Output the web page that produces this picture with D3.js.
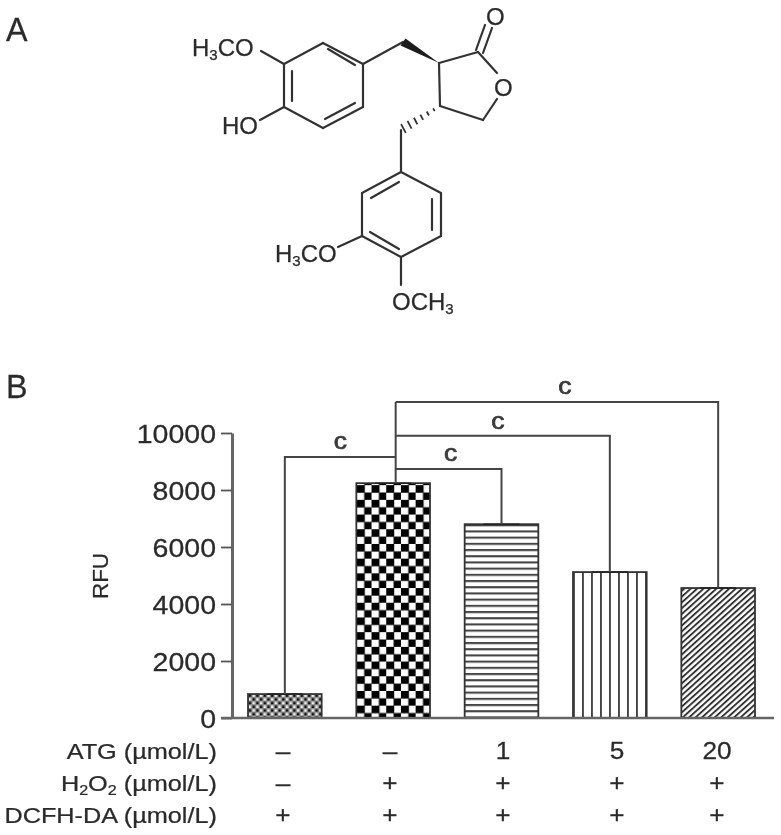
<!DOCTYPE html>
<html>
<head>
<meta charset="utf-8">
<script src="https://cdn.jsdelivr.net/npm/d3@7"></script>
<style>
html, body { margin: 0; padding: 0; background: #fff; }
svg { display: block; }
text { font-family: "Liberation Sans", Arial, sans-serif; fill: #2b2b2b; stroke: #2b2b2b; stroke-width: 0.25px; }
</style>
</head>
<body>
<div id="chart"></div>
<script>
// panel B data
var categories = ["control", "h2o2", "atg1", "atg5", "atg20"];
var rfuValues = [840, 8240, 6800, 5120, 4560];
var patternIds = ["fine", "check", "horiz", "vert", "diag"];
var yTicks = [0, 2000, 4000, 6000, 8000, 10000];

var rowNames = ["ATG", "H2O2", "DCFH-DA"];
var rowAtg = ["–", "–", "1", "5", "20"];
var rowH2o2 = ["–", "+", "+", "+", "+"];
var rowDcfh = ["+", "+", "+", "+", "+"];

// significance brackets, level in RFU units
var bracketFrom = ["control", "atg1", "atg5", "atg20"];
var bracketLevel = [9160, 8740, 9900, 11090];
var bracketLabel = ["c", "c", "c", "c"];

// panel A structure
var atoms = {
    a1: [323, 43], a2: [363, 64], a3: [363, 107], a4: [323, 128], a5: [284, 107], a6: [284, 64],
    ome1: [261, 51], oh: [260, 120], ch2a: [403, 42],
    c3: [439, 63], c2: [478, 52], o1: [497, 73], o1b: [497, 99], c5: [483, 120], c4: [440, 106],
    ch2b: [401, 130],
    b1: [401, 172], b2: [441, 193], b3: [441, 236], b4: [401, 257], b5: [362, 236], b6: [362, 193],
    ome2: [338, 247], ome3: [401, 285]
};
var singleBonds = [
    ["a1", "a2"], ["a2", "a3"], ["a3", "a4"], ["a4", "a5"], ["a5", "a6"], ["a6", "a1"],
    ["a6", "ome1"], ["a5", "oh"], ["a2", "ch2a"],
    ["c3", "c2"], ["c3", "c4"], ["c2", "o1"], ["o1b", "c5"], ["c5", "c4"],
    ["ch2b", "b1"],
    ["b1", "b2"], ["b2", "b3"], ["b3", "b4"], ["b4", "b5"], ["b5", "b6"], ["b6", "b1"],
    ["b5", "ome2"], ["b4", "ome3"]
];
var innerBonds = [
    [[328, 49], [355, 65]], [[325, 119], [355, 103]], [[292, 71], [292, 101]],
    [[371, 198], [399, 182]], [[432, 199], [432, 230]], [[370, 232], [399, 249]],
    [[476, 50], [485, 25]], [[483, 53], [492, 28]]
];

var width = 781, height = 835;

var svg = d3.select("#chart").append("svg")
    .attr("width", width)
    .attr("height", height);

var defs = svg.append("defs");
defs.append("filter").attr("id", "soft")
    .attr("filterUnits", "userSpaceOnUse")
    .attr("x", 0).attr("y", 0).attr("width", width).attr("height", height)
    .append("feGaussianBlur").attr("stdDeviation", 0.6);

var root = svg.append("g").attr("filter", "url(#soft)");
root.append("rect").attr("width", width).attr("height", height).attr("fill", "#fff");

var x = d3.scaleBand().domain(categories).range([248, 755]).paddingInner(0.32).paddingOuter(0);
var y = d3.scaleLinear().domain([0, 10000]).range([718, 433]);
var center = function(c) { return x(c) + x.bandwidth() / 2; };

function make_pattern(id, w, h, tx, ty) {
    return defs.append("pattern").attr("id", id)
        .attr("patternUnits", "userSpaceOnUse")
        .attr("width", w).attr("height", h)
        .attr("patternTransform", "translate(" + tx + "," + ty + ")");
}

var top0 = y(rfuValues[0]), top1 = y(rfuValues[1]), top2 = y(rfuValues[2]);

var p = make_pattern("fine", 7.4, 7.4, x("control"), top0);
p.append("rect").attr("width", 7.4).attr("height", 7.4).attr("fill", "#8a8a8a");
p.append("rect").attr("x", 0.8).attr("y", 0.4).attr("width", 2.4).attr("height", 2.4).attr("fill", "#111");
p.append("rect").attr("x", 4.5).attr("y", 4.1).attr("width", 2.4).attr("height", 2.4).attr("fill", "#111");
p.append("rect").attr("x", 4.5).attr("y", 0.4).attr("width", 2.4).attr("height", 2.4).attr("fill", "#eee");
p.append("rect").attr("x", 0.8).attr("y", 4.1).attr("width", 2.4).attr("height", 2.4).attr("fill", "#eee");

p = make_pattern("check", 14.7, 14.7, x("h2o2") + 0.5, top1 + 2);
p.append("rect").attr("width", 14.7).attr("height", 14.7).attr("fill", "#fff");
p.append("rect").attr("x", 0).attr("y", 0).attr("width", 8).attr("height", 7.6).attr("fill", "#000");
p.append("rect").attr("x", 7.35).attr("y", 7.35).attr("width", 8).attr("height", 7.6).attr("fill", "#000");

p = make_pattern("horiz", 10, 6.2, 0, top2);
p.append("rect").attr("width", 10).attr("height", 2.1).attr("fill", "#444");

p = make_pattern("vert", 9, 10, x("atg5"), 0);
p.append("rect").attr("width", 1.9).attr("height", 10).attr("fill", "#444");

p = defs.append("pattern").attr("id", "diag")
    .attr("patternUnits", "userSpaceOnUse")
    .attr("width", 10).attr("height", 4.3)
    .attr("patternTransform", "rotate(-42)");
p.append("rect").attr("width", 10).attr("height", 1.9).attr("fill", "#333");

// bars
root.selectAll(".bar").data(categories).enter().append("rect")
    .attr("class", "bar")
    .attr("x", function(d) { return x(d); })
    .attr("y", function(d, i) { return y(rfuValues[i]); })
    .attr("width", x.bandwidth())
    .attr("height", function(d, i) { return y(0) - y(rfuValues[i]); })
    .attr("fill", function(d, i) { return "url(#" + patternIds[i] + ")"; })
    .attr("stroke", "#333")
    .attr("stroke-width", 1.8);

// small cap on top of each bar
root.selectAll(".cap").data(categories).enter().append("line")
    .attr("class", "cap")
    .attr("x1", function(d) { return center(d) - 18; })
    .attr("x2", function(d) { return center(d) + 18; })
    .attr("y1", function(d, i) { return y(rfuValues[i]); })
    .attr("y2", function(d, i) { return y(rfuValues[i]); })
    .attr("stroke", "#222")
    .attr("stroke-width", 1.5);

// axes
var yAxis = d3.axisLeft(y).tickValues(yTicks).tickFormat(d3.format("d")).tickSize(11).tickSizeOuter(0);
var axisG = root.append("g").attr("transform", "translate(232,0)").call(yAxis);
axisG.select(".domain").attr("stroke", "#666").attr("stroke-width", 3);
axisG.selectAll(".tick line").attr("stroke", "#555").attr("stroke-width", 1.8);
axisG.selectAll(".tick text")
    .attr("x", 0).attr("dy", "0.36em")
    .attr("transform", "translate(-16,0) scale(1.14,1)")
    .attr("text-anchor", "end")
    .style("font-family", "'Liberation Sans'")
    .style("font-size", "25px")
    .style("fill", "#2b2b2b");

root.append("line")
    .attr("x1", 221).attr("x2", 774)
    .attr("y1", y(0)).attr("y2", y(0))
    .attr("stroke", "#666").attr("stroke-width", 2.4);

function add_text(txt, px, py, size, anchor, sx) {
    return root.append("text")
        .attr("transform", "translate(" + px + "," + py + ") scale(" + (sx || 1) + ",1)")
        .attr("text-anchor", anchor || "start")
        .style("font-size", size + "px")
        .text(txt);
}

root.append("text")
    .attr("transform", "translate(108,576) rotate(-90) scale(1.02,1)")
    .attr("text-anchor", "middle")
    .style("font-size", "22px")
    .text("RFU");

// brackets
var hubX = center("h2o2") + 2.5;
var lineColor = "#444";
var bracketPath = d3.line();

root.append("path")
    .attr("d", bracketPath([[hubX, y(rfuValues[1])], [hubX, y(d3.max(bracketLevel))]]))
    .attr("fill", "none").attr("stroke", lineColor).attr("stroke-width", 2);

var labelShift = [0, 2, -5, 8];
var labelGap = [8, 8, 7, 8];

bracketFrom.forEach(function(c, i) {
    var barTop = y(rfuValues[categories.indexOf(c)]);
    var cx = center(c);
    root.append("path")
        .attr("d", bracketPath([[hubX, y(bracketLevel[i])], [cx, y(bracketLevel[i])], [cx, barTop]]))
        .attr("fill", "none").attr("stroke", lineColor).attr("stroke-width", 2);
    add_text(bracketLabel[i], (hubX + cx) / 2 + labelShift[i], y(bracketLevel[i]) - labelGap[i], 23, "middle", 1.15)
        .style("fill", "#3a3a3a").style("stroke", "#3a3a3a").style("stroke-width", "0.7px");
});

// condition rows under the bars
var rowX = d3.scaleOrdinal().domain(categories).range([283, 390, 503, 617, 717]);
var rowY = d3.scaleOrdinal().domain(rowNames).range([759, 791, 823]);

function add_row_label(name, parts) {
    var t = root.append("text")
        .attr("transform", "translate(217," + rowY(name) + ") scale(1.15,1)")
        .attr("text-anchor", "end")
        .style("font-size", "22px");
    parts.forEach(function(part) {
        t.append("tspan").text(part[0])
            .attr("dy", part[1] || 0)
            .style("font-size", part[2] || "22px");
    });
}
add_row_label("ATG", [["ATG (µmol/L)"]]);
add_row_label("H2O2", [["H"], ["2", 4, "14px"], ["O", -4], ["2", 4, "14px"], [" (µmol/L)", -4]]);
add_row_label("DCFH-DA", [["DCFH-DA (µmol/L)"]]);

[[rowNames[0], rowAtg], [rowNames[1], rowH2o2], [rowNames[2], rowDcfh]].forEach(function(row) {
    root.selectAll(null).data(row[1]).enter().append("text")
        .attr("transform", function(d, i) {
            return "translate(" + rowX(categories[i]) + "," + rowY(row[0]) + ") scale(1.14,1)";
        })
        .attr("text-anchor", "middle")
        .style("font-size", "23px")
        .text(function(d) { return d; });
});

// panel letters
add_text("A", 6, 41, 34, "start", 0.95);
add_text("B", 6, 398, 34, "start", 0.95);

// panel A molecule
var mol = root.append("g").attr("fill", "none").attr("stroke", "#333").attr("stroke-width", 2.2)
    .attr("stroke-linecap", "round");
singleBonds.forEach(function(b) {
    mol.append("path").attr("d", d3.line()([atoms[b[0]], atoms[b[1]]]));
});
innerBonds.forEach(function(b) {
    mol.append("path").attr("d", d3.line()(b));
});

// solid wedge, wide at the CH2 end
var wa = atoms.ch2a, wb = atoms.c3;
root.append("path")
    .attr("d", d3.line()([[wa[0] + 2.5, wa[1] - 3.5], [wb[0], wb[1]], [wa[0] - 2.5, wa[1] + 3.5]]) + "Z")
    .attr("fill", "#1c1c1c");

// hashed wedge between C4 and CH2
var ha = atoms.c4, hb = atoms.ch2b;
d3.range(1, 7).forEach(function(k) {
    var t = k / 6.4;
    var hx = ha[0] + (hb[0] - ha[0]) * t;
    var hy = ha[1] + (hb[1] - ha[1]) * t;
    var half = 1 + 4.5 * t;
    root.append("line")
        .attr("x1", hx - half * 0.45).attr("y1", hy - half * 0.85)
        .attr("x2", hx + half * 0.45).attr("y2", hy + half * 0.85)
        .attr("stroke", "#333").attr("stroke-width", 1.8);
});

function add_formula(px, py, anchor, parts) {
    var t = root.append("text")
        .attr("x", px).attr("y", py)
        .attr("text-anchor", anchor)
        .style("font-size", "24px");
    parts.forEach(function(part) {
        t.append("tspan").text(part[0])
            .attr("dy", part[1] || 0)
            .style("font-size", part[2] || "24px");
    });
}
add_formula(192, 56, "start", [["H"], ["3", 4, "15px"], ["CO", -4]]);
add_formula(222, 134, "start", [["HO"]]);
add_formula(275, 262, "start", [["H"], ["3", 4, "15px"], ["CO", -4]]);
add_formula(392, 310, "start", [["OCH"], ["3", 4, "15px"]]);
add_formula(486, 25, "start", [["O"]]);
add_formula(494, 96, "start", [["O"]]);
</script>
</body>
</html>
